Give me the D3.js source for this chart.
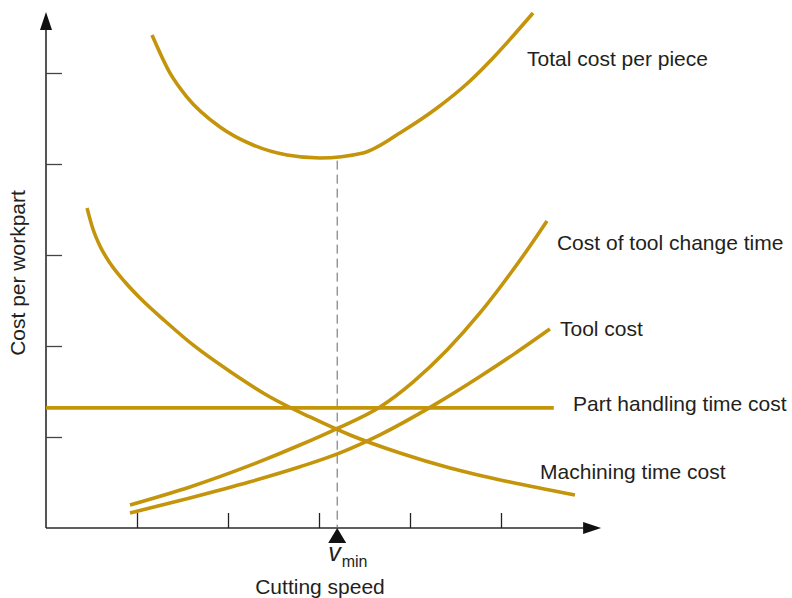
<!DOCTYPE html>
<html>
<head>
<meta charset="utf-8">
<script src="https://cdn.jsdelivr.net/npm/d3@7"></script>
<style>
  html, body { margin: 0; padding: 0; background: #fff; }
  svg { display: block; }
  text { font-family: "Liberation Sans", Arial, Helvetica, sans-serif; fill: #231f20; }
</style>
</head>
<body>
<script>
// ---- Data (speed units along x, cost units along y) ----
const xTicks = [1, 2, 3, 4, 5];
const yTicks = [1, 2, 3, 4, 5];

const totalCost = [
  [1.165, 5.418], [1.363, 4.999], [1.549, 4.736], [1.912, 4.407], [2.275, 4.209],
  [2.648, 4.099], [3.011, 4.066], [3.484, 4.121], [3.923, 4.363], [4.297, 4.615],
  [4.659, 4.912], [4.912, 5.165], [5.132, 5.407], [5.352, 5.659]
];
const toolChangeCost = [
  [0.923, 0.253], [1.582, 0.451], [2.242, 0.688], [2.791, 0.912], [3.198, 1.093],
  [3.670, 1.330], [4.033, 1.604], [4.407, 1.956], [4.769, 2.363], [5.099, 2.791],
  [5.319, 3.099], [5.505, 3.374]
];
const toolCost = [
  [0.923, 0.165], [1.582, 0.330], [2.242, 0.508], [2.791, 0.673], [3.231, 0.826],
  [3.670, 1.024], [4.253, 1.345], [4.769, 1.665], [5.154, 1.919], [5.538, 2.187]
];
const handlingCost = [[0, 1.32], [5.58, 1.32]];
const machiningCost = [
  [0.451, 3.516], [0.516, 3.286], [0.593, 3.099], [0.703, 2.912], [0.868, 2.703],
  [1.033, 2.527], [1.308, 2.275], [1.637, 1.995], [2.022, 1.720], [2.462, 1.440],
  [2.901, 1.220], [3.341, 1.022], [3.890, 0.824], [4.440, 0.659], [5.099, 0.505],
  [5.813, 0.363]
];
const vMin = 3.20;
const vMinTotal = 4.07;

const curveLabels = [
  { text: "Total cost per piece", v: 5.286, c: 5.143 },
  { text: "Cost of tool change time", v: 5.615, c: 3.121 },
  { text: "Tool cost", v: 5.648, c: 2.176 },
  { text: "Part handling time cost", v: 5.791, c: 1.352 },
  { text: "Machining time cost", v: 5.429, c: 0.604 }
];

// ---- Layout ----
const W = 792, H = 598;
const gold = "#c4950a";
const axisCol = "#2b2b2b";

const x = d3.scaleLinear().domain([0, 5]).range([46, 501]);
const y = d3.scaleLinear().domain([0, 5]).range([528, 73]);

const svg = d3.select("body").append("svg")
  .attr("width", W).attr("height", H);

// Axes lines with arrowheads
const xEnd = x(6.1), yEnd = y(5.67);
svg.append("line")
  .attr("x1", x(0)).attr("y1", y(0)).attr("x2", xEnd - 14).attr("y2", y(0))
  .attr("stroke", axisCol).attr("stroke-width", 1.6);
svg.append("line")
  .attr("x1", x(0)).attr("y1", y(0)).attr("x2", x(0)).attr("y2", yEnd + 14)
  .attr("stroke", axisCol).attr("stroke-width", 1.6);
svg.append("path")
  .attr("d", `M${xEnd},${y(0)} L${xEnd - 18},${y(0) - 6} L${xEnd - 18},${y(0) + 6} Z`)
  .attr("fill", "#111");
svg.append("path")
  .attr("d", `M${x(0)},${yEnd} L${x(0) - 6},${yEnd + 18} L${x(0) + 6},${yEnd + 18} Z`)
  .attr("fill", "#111");

// Ticks via d3 axes
const yAxis = svg.append("g")
  .attr("transform", `translate(${x(0)},0)`)
  .call(d3.axisRight(y).tickValues(yTicks).tickSize(16).tickFormat(""));
yAxis.select(".domain").remove();
yAxis.selectAll("line").attr("stroke", "#444").attr("stroke-width", 1.3);

const xAxis = svg.append("g")
  .attr("transform", `translate(0,${y(0)})`)
  .call(d3.axisTop(x).tickValues(xTicks).tickSize(15).tickFormat(""));
xAxis.select(".domain").remove();
xAxis.selectAll("line").attr("stroke", "#222").attr("stroke-width", 1.3);

// Dashed line at v_min
svg.append("line")
  .attr("x1", x(vMin)).attr("x2", x(vMin))
  .attr("y1", y(vMinTotal) + 3).attr("y2", y(0))
  .attr("stroke", "#666").attr("stroke-width", 1)
  .attr("stroke-dasharray", "9,5");

// Curves
const line = d3.line()
  .x(d => x(d[0])).y(d => y(d[1]))
  .curve(d3.curveMonotoneX);

[totalCost, toolChangeCost, toolCost, handlingCost, machiningCost].forEach(s => {
  svg.append("path")
    .attr("d", line(s))
    .attr("fill", "none")
    .attr("stroke", gold)
    .attr("stroke-width", 3.6);
});

// v_min marker
const tx = x(vMin), ty = y(0);
svg.append("path")
  .attr("d", `M${tx},${ty} L${tx - 9},${ty + 15} L${tx + 9},${ty + 15} Z`)
  .attr("fill", "#111");
const vt = svg.append("text")
  .attr("x", tx - 9).attr("y", ty + 33)
  .style("font-size", "25px");
vt.append("tspan").text("v").style("font-style", "italic");
vt.append("tspan").text("min").attr("dy", 6).attr("dx", 1).style("font-size", "16px");

// Labels
svg.selectAll(".clabel").data(curveLabels).enter().append("text")
  .attr("class", "clabel")
  .attr("x", d => x(d.v)).attr("y", d => y(d.c))
  .attr("dominant-baseline", "middle")
  .style("font-size", "21px")
  .text(d => d.text);

// Axis titles
svg.append("text")
  .attr("x", 320).attr("y", 594)
  .attr("text-anchor", "middle")
  .style("font-size", "21px")
  .text("Cutting speed");

svg.append("text")
  .attr("transform", `translate(25,${273}) rotate(-90)`)
  .attr("text-anchor", "middle")
  .style("font-size", "21px")
  .text("Cost per workpart");
</script>
</body>
</html>
